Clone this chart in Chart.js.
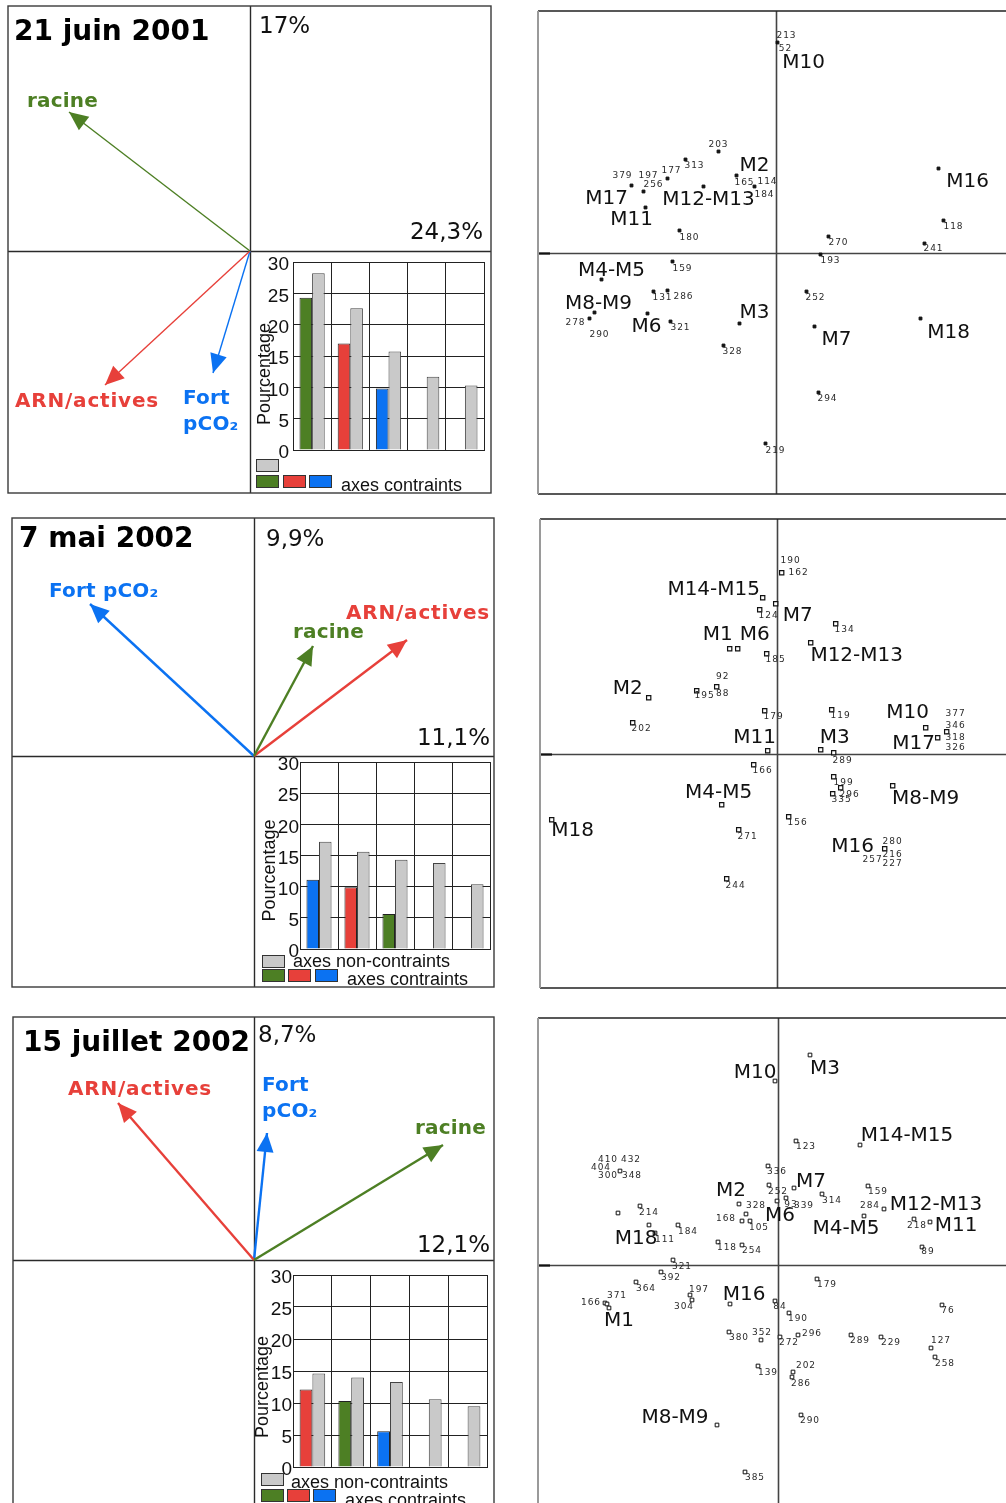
<!DOCTYPE html>
<html lang="fr">
<head>
<meta charset="utf-8">
<title>Analyses canoniques : racine, ARN/actives, Fort pCO₂</title>
<script src="https://cdn.jsdelivr.net/npm/chart.js@4.4.1/dist/chart.umd.min.js"></script>
<style>
  html, body { margin: 0; padding: 0; background: #fff; }
  body { position: relative; width: 1006px; height: 1503px; overflow: hidden; }
  canvas { position: absolute; }
</style>
</head>
<body>
<script>
// ---------------------------------------------------------------------------
// Data
// ---------------------------------------------------------------------------
const surveyDates = ['21 juin 2001', '7 mai 2002', '15 juillet 2002'];
const inertiaVertical = ['17%', '9,9%', '8,7%'];
const inertiaHorizontal = ['24,3%', '11,1%', '12,1%'];

const variableNames = ['racine', 'ARN/actives', 'Fort pCO₂'];

// Variable arrows (axis 1, axis 2), same order as variableNames
const arrows2001 = [[-1.81, 1.39], [-1.45, -1.34], [-0.37, -1.22]];
const arrowsMai2002 = [[0.59, 1.10], [1.53, 1.16], [-1.64, 1.52]];
const arrowsJuil2002 = [[1.89, 1.15], [-1.36, 1.57], [0.13, 1.27]];

// Arrow label text (line breaks as printed)
const arrowText2001 = ['racine', 'ARN/actives', 'Fort\npCO₂'];
const arrowTextMai2002 = ['racine', 'ARN/actives', 'Fort pCO₂'];
const arrowTextJuil2002 = ['racine', 'ARN/actives', 'Fort\npCO₂'];
// Arrow label anchors (left edge, first baseline) in axis units
const arrowLabelAt2001 = [[-2.23, 1.44], [-2.35, -1.56], [-0.67, -1.53]];
const arrowLabelAtMai2002 = [[0.39, 1.18], [0.92, 1.37], [-2.05, 1.59]];
const arrowLabelAtJuil2002 = [[1.61, 1.26], [-1.86, 1.65], [0.08, 1.69]];

// Inertia per axis (%)
const inertiaAxes = ['1', '2', '3', '4', '5'];
const constrained2001 = [24.3, 17.0, 9.8];
const constrainedVars2001 = ['racine', 'ARN/actives', 'Fort pCO₂'];
const unconstrained2001 = [28.2, 22.6, 15.7, 11.7, 10.3];
const constrainedMai2002 = [11.1, 9.9, 5.6];
const constrainedVarsMai2002 = ['Fort pCO₂', 'ARN/actives', 'racine'];
const unconstrainedMai2002 = [17.2, 15.6, 14.3, 13.8, 10.4];
const constrainedJuil2002 = [12.1, 10.3, 5.6];
const constrainedVarsJuil2002 = ['ARN/actives', 'racine', 'Fort pCO₂'];
const unconstrainedJuil2002 = [14.6, 14.0, 13.3, 10.6, 9.5];

// Individual scores (axis 1, axis 2)
const scores2001 = [
  [0.01, 2.10], [-0.58, 1.01], [-0.91, 0.93], [-1.09, 0.74], [-1.45, 0.67],
  [-1.33, 0.61], [-1.31, 0.45], [-0.73, 0.66], [-0.40, 0.77], [-0.22, 0.66],
  [-0.97, 0.22], [1.62, 0.84], [1.67, 0.32], [0.52, 0.16], [1.48, 0.09],
  [0.44, -0.02], [-1.04, -0.09], [-1.75, -0.27], [-1.23, -0.39], [-1.09, -0.38],
  [-1.82, -0.60], [-1.87, -0.66], [-1.29, -0.61], [-1.06, -0.69], [-0.37, -0.71],
  [-0.53, -0.93], [0.30, -0.39], [0.38, -0.74], [1.44, -0.66], [0.42, -1.40],
  [-0.11, -1.91]
];
const names2001 = [
  ['213', 0.10, 2.17], ['52', 0.09, 2.04], ['M10', 0.27, 1.90], ['203', -0.58, 1.08],
  ['313', -0.82, 0.87], ['177', -1.05, 0.82], ['379', -1.54, 0.77], ['197', -1.28, 0.77],
  ['256', -1.23, 0.68], ['M17', -1.70, 0.54], ['M11', -1.45, 0.33], ['M12-M13', -0.68, 0.53],
  ['M2', -0.22, 0.87], ['165', -0.32, 0.70], ['114', -0.09, 0.71], ['184', -0.12, 0.58],
  ['180', -0.87, 0.15], ['M16', 1.91, 0.71], ['118', 1.77, 0.26], ['270', 0.62, 0.10],
  ['241', 1.57, 0.035], ['193', 0.54, -0.08], ['159', -0.94, -0.16], ['M4-M5', -1.65, -0.18],
  ['131', -1.14, -0.45], ['286', -0.93, -0.44], ['M8-M9', -1.78, -0.51], ['278', -2.01, -0.70],
  ['290', -1.77, -0.82], ['M6', -1.30, -0.74], ['321', -0.96, -0.75], ['M3', -0.22, -0.60],
  ['328', -0.44, -0.99], ['252', 0.39, -0.45], ['M7', 0.60, -0.87], ['M18', 1.72, -0.80],
  ['294', 0.51, -1.46], ['219', -0.01, -1.98]
];

const scoresMai2002 = [
  [0.05, 1.81], [-0.14, 1.56], [-0.01, 1.50], [-0.17, 1.44], [0.59, 1.30],
  [-0.47, 1.05], [-0.39, 1.05], [0.34, 1.11], [-0.10, 1.00], [-0.60, 0.67],
  [-0.80, 0.63], [-1.28, 0.56], [-1.44, 0.31], [-0.12, 0.43], [0.55, 0.44],
  [1.49, 0.26], [1.70, 0.22], [1.61, 0.16], [-0.09, 0.03], [0.44, 0.04],
  [0.57, 0.01], [-0.23, -0.11], [-0.55, -0.51], [-2.25, -0.66], [-0.38, -0.76],
  [-0.50, -1.25], [0.57, -0.23], [0.64, -0.34], [0.56, -0.40], [1.16, -0.32],
  [0.12, -0.63], [1.08, -0.95]
];
const namesMai2002 = [
  ['190', 0.14, 1.93], ['162', 0.22, 1.81], ['M14-M15', -0.63, 1.64], ['M7', 0.21, 1.38],
  ['124', -0.08, 1.38], ['134', 0.68, 1.24], ['M1', -0.59, 1.19], ['M6', -0.22, 1.19],
  ['M12-M13', 0.80, 0.98], ['185', -0.01, 0.94], ['92', -0.54, 0.77], ['88', -0.54, 0.60],
  ['195', -0.72, 0.58], ['M2', -1.49, 0.65], ['202', -1.35, 0.25], ['179', -0.03, 0.37],
  ['119', 0.64, 0.38], ['M10', 1.31, 0.41], ['377', 1.79, 0.40], ['346', 1.79, 0.28],
  ['318', 1.79, 0.16], ['326', 1.79, 0.06], ['M17', 1.37, 0.10], ['M11', -0.22, 0.16],
  ['M3', 0.58, 0.16], ['289', 0.66, -0.07], ['166', -0.14, -0.17], ['M4-M5', -0.58, -0.39],
  ['M18', -2.04, -0.77], ['271', -0.29, -0.83], ['244', -0.41, -1.32], ['199', 0.67, -0.29],
  ['296', 0.73, -0.41], ['335', 0.65, -0.46], ['M8-M9', 1.49, -0.45], ['156', 0.21, -0.69],
  ['M16', 0.76, -0.93], ['280', 1.16, -0.88], ['216', 1.16, -1.01], ['257', 0.96, -1.06],
  ['227', 1.16, -1.10]
];

const scoresJuil2002 = [
  [0.32, 2.10], [-0.03, 1.84], [0.18, 1.24], [0.82, 1.20], [-1.58, 0.94],
  [-0.10, 0.99], [-0.09, 0.80], [0.16, 0.77], [0.44, 0.71], [0.08, 0.67],
  [-0.01, 0.64], [-0.39, 0.61], [-0.32, 0.51], [-0.36, 0.44], [-0.28, 0.44],
  [0.90, 0.79], [1.06, 0.56], [0.86, 0.49], [1.36, 0.46], [1.52, 0.43],
  [1.44, 0.18], [-1.60, 0.52], [-1.38, 0.59], [-1.29, 0.40], [-1.23, 0.32],
  [-1.00, 0.40], [-0.60, 0.23], [-0.36, 0.20], [-1.05, 0.05], [-1.17, -0.07],
  [-1.42, -0.17], [-0.88, -0.30], [-0.86, -0.35], [-1.73, -0.38], [-1.71, -0.39],
  [-1.69, -0.43], [-0.48, -0.39], [-0.03, -0.36], [0.11, -0.48], [0.39, -0.14],
  [1.64, -0.40], [-0.49, -0.67], [-0.17, -0.75], [0.02, -0.72], [0.20, -0.70],
  [0.73, -0.70], [1.03, -0.72], [1.53, -0.83], [1.57, -0.92], [-0.20, -1.01],
  [0.15, -1.07], [0.14, -1.12], [-0.61, -1.60], [0.23, -1.50], [-0.33, -2.07]
];
const namesJuil2002 = [
  ['M3', 0.47, 1.96], ['M10', -0.23, 1.92], ['123', 0.28, 1.18], ['M14-M15', 1.29, 1.29],
  ['410', -1.70, 1.05], ['432', -1.47, 1.05], ['404', -1.77, 0.97], ['300', -1.70, 0.89],
  ['348', -1.46, 0.89], ['336', -0.01, 0.93], ['252', 0.00, 0.73], ['M7', 0.33, 0.83],
  ['314', 0.54, 0.64], ['93', 0.13, 0.60], ['339', 0.26, 0.59], ['M6', 0.02, 0.49],
  ['M2', -0.47, 0.74], ['328', -0.22, 0.59], ['168', -0.52, 0.46], ['105', -0.19, 0.37],
  ['159', 1.00, 0.73], ['284', 0.92, 0.59], ['M12-M13', 1.58, 0.60], ['M4-M5', 0.68, 0.36],
  ['218', 1.39, 0.39], ['M11', 1.78, 0.39], ['89', 1.50, 0.13], ['214', -1.29, 0.52],
  ['M18', -1.42, 0.26], ['111', -1.13, 0.25], ['184', -0.90, 0.33], ['118', -0.51, 0.17],
  ['254', -0.26, 0.14], ['321', -0.96, -0.02], ['392', -1.07, -0.13], ['364', -1.32, -0.24],
  ['197', -0.79, -0.25], ['304', -0.94, -0.42], ['166', -1.87, -0.38], ['371', -1.61, -0.31],
  ['M1', -1.59, -0.56], ['M16', -0.34, -0.30], ['84', 0.02, -0.42], ['190', 0.20, -0.54],
  ['179', 0.49, -0.20], ['76', 1.70, -0.46], ['380', -0.39, -0.73], ['352', -0.16, -0.68],
  ['272', 0.11, -0.78], ['296', 0.34, -0.69], ['289', 0.82, -0.76], ['229', 1.13, -0.78],
  ['127', 1.63, -0.76], ['258', 1.67, -0.99], ['139', -0.10, -1.08], ['202', 0.28, -1.01],
  ['286', 0.23, -1.19], ['M8-M9', -1.03, -1.53], ['290', 0.32, -1.56], ['385', -0.23, -2.13]
];

// ---------------------------------------------------------------------------
// Styling
// ---------------------------------------------------------------------------
const varColor = { 'racine': '#4d7f24', 'ARN/actives': '#e7403a', 'Fort pCO₂': '#0b72f2' };
const varSpacing = { 'racine': '0.2px', 'ARN/actives': '0.8px', 'Fort pCO₂': '0.2px' };
const SANS = '"DejaVu Sans", Verdana, sans-serif';
const ARIAL = '"Liberation Sans", Arial, sans-serif';
const UNIT = 100; // pixels per axis unit

function placeCanvas(box) {
  const c = document.createElement('canvas');
  c.width = box[2] - box[0] + 4;
  c.height = box[3] - box[1] + 4;
  c.style.left = (box[0] - 2) + 'px';
  c.style.top = (box[1] - 2) + 'px';
  document.body.appendChild(c);
  return c;
}

function limits(box, origin) {
  return {
    x: { min: (box[0] - origin[0]) / UNIT, max: (box[2] - origin[0]) / UNIT },
    y: { min: (origin[1] - box[3]) / UNIT, max: (origin[1] - box[1]) / UNIT }
  };
}

function baseOptions(lim) {
  return {
    responsive: false, animation: false, events: [], devicePixelRatio: 1,
    layout: { padding: 2, autoPadding: false },
    plugins: { legend: { display: false }, tooltip: { enabled: false } },
    scales: {
      x: { type: 'linear', display: false, min: lim.x.min, max: lim.x.max },
      y: { type: 'linear', display: false, min: lim.y.min, max: lim.y.max }
    }
  };
}

// ---------------------------------------------------------------------------
// Biplot of the explanatory variables
// ---------------------------------------------------------------------------
function biplot(idx, box, origin, arrows, texts, anchors, lineWidth, lay) {
  const canvas = placeCanvas(box);
  const datasets = arrows.map((v, i) => ({
    data: [{ x: 0, y: 0 }, { x: v[0], y: v[1] }],
    showLine: true, borderColor: varColor[variableNames[i]], borderWidth: lineWidth,
    pointRadius: 0, fill: false
  }));
  const decor = {
    id: 'biplotDecor',
    beforeDatasetsDraw(chart) {
      const { ctx, chartArea: a, scales: { x, y } } = chart;
      const px = Math.round(x.getPixelForValue(0)) + 0.5;
      const py = Math.round(y.getPixelForValue(0)) + 0.5;
      ctx.save();
      ctx.strokeStyle = '#2a2a2a';
      ctx.lineWidth = 1.4;
      ctx.beginPath();
      ctx.moveTo(px, a.top); ctx.lineTo(px, a.bottom);
      ctx.moveTo(a.left, py); ctx.lineTo(a.right, py);
      ctx.stroke();
      ctx.strokeStyle = '#3a3a3a';
      ctx.strokeRect(a.left, a.top, a.width, a.height);
      ctx.restore();
    },
    afterDatasetsDraw(chart) {
      const { ctx, chartArea: a, scales: { x, y } } = chart;
      const ox = x.getPixelForValue(0), oy = y.getPixelForValue(0);
      ctx.save();
      // arrow heads
      chart.data.datasets.forEach((ds, i) => {
        const pts = chart.getDatasetMeta(i).data;
        const p0 = pts[0], p1 = pts[1];
        const ang = Math.atan2(p1.y - p0.y, p1.x - p0.x);
        const L = 19, W = 8.5;
        const bx = p1.x - L * Math.cos(ang), by = p1.y - L * Math.sin(ang);
        ctx.fillStyle = ds.borderColor;
        ctx.beginPath();
        ctx.moveTo(p1.x, p1.y);
        ctx.lineTo(bx - W * Math.sin(ang), by + W * Math.cos(ang));
        ctx.lineTo(bx + W * Math.sin(ang), by - W * Math.cos(ang));
        ctx.closePath();
        ctx.fill();
      });
      // variable names
      ctx.font = 'bold 20px ' + SANS;
      ctx.textAlign = 'left';
      ctx.textBaseline = 'alphabetic';
      texts.forEach((t, i) => {
        const v = variableNames[i];
        ctx.fillStyle = varColor[v];
        ctx.letterSpacing = varSpacing[v];
        const lx = x.getPixelForValue(anchors[i][0]);
        const ly = y.getPixelForValue(anchors[i][1]);
        t.split('\n').forEach((line, k) => ctx.fillText(line, lx, ly + k * 26));
      });
      ctx.letterSpacing = '0px';
      // date
      ctx.fillStyle = '#000';
      ctx.font = 'bold 28px ' + SANS;
      ctx.fillText(surveyDates[idx], a.left + lay.title[0], a.top + lay.title[1]);
      // inertia of the two axes
      ctx.font = '23px ' + SANS;
      ctx.fillStyle = '#111';
      ctx.fillText(inertiaVertical[idx], ox + lay.vert[0], a.top + lay.vert[1]);
      ctx.textAlign = 'right';
      ctx.fillText(inertiaHorizontal[idx], a.right - lay.horiz[0], oy - lay.horiz[1]);
      ctx.restore();
    }
  };
  new Chart(canvas, {
    type: 'scatter',
    data: { datasets },
    options: baseOptions(limits(box, origin)),
    plugins: [decor]
  });
}

// ---------------------------------------------------------------------------
// Inertia bar chart (constrained vs non-constrained axes)
// ---------------------------------------------------------------------------
function inertiaBars(geom, constrained, constrainedVars, unconstrained, leg) {
  const { L, T, R, B, bottom, tickPad } = geom;
  const canvas = document.createElement('canvas');
  const left = L - 40, top = T - 12;
  canvas.width = R + 4 - left;
  canvas.height = bottom - top;
  canvas.style.left = left + 'px';
  canvas.style.top = top + 'px';
  document.body.appendChild(canvas);

  const decor = {
    id: 'barDecor',
    afterDraw(chart) {
      const { ctx, chartArea: a } = chart;
      ctx.save();
      // legend
      const box = (x0, y0, fill) => {
        ctx.fillStyle = fill;
        ctx.fillRect(x0, y0, 22, 12);
        ctx.strokeStyle = '#333';
        ctx.lineWidth = 1;
        ctx.strokeRect(x0 + 0.5, y0 + 0.5, 22, 12);
      };
      box(a.left + leg.gray[0], a.bottom + leg.gray[1], '#c9c9c9');
      ['racine', 'ARN/actives', 'Fort pCO₂'].forEach((v, i) =>
        box(a.left + leg.colored[i], a.bottom + leg.coloredY, varColor[v]));
      ctx.fillStyle = '#111';
      ctx.font = '18px ' + ARIAL;
      ctx.textAlign = 'left';
      ctx.textBaseline = 'alphabetic';
      if (leg.grayText) ctx.fillText('axes non-contraints', a.left + leg.grayText[0], a.bottom + leg.grayText[1]);
      ctx.fillText('axes contraints', a.left + leg.text[0], a.bottom + leg.text[1]);
      // axis title
      ctx.translate(a.left + leg.title[0], (a.top + a.bottom) / 2 + leg.title[1]);
      ctx.rotate(-Math.PI / 2);
      ctx.textAlign = 'center';
      ctx.textBaseline = 'middle';
      ctx.fillText('Pourcentage', 0, 0);
      ctx.restore();
    }
  };

  new Chart(canvas, {
    type: 'bar',
    data: {
      labels: inertiaAxes,
      datasets: [
        {
          data: constrained,
          backgroundColor: constrainedVars.map(v => varColor[v]),
          borderColor: '#222', borderWidth: 1,
          categoryPercentage: 0.66, barPercentage: 1
        },
        {
          data: unconstrained,
          backgroundColor: '#c9c9c9',
          borderColor: '#444', borderWidth: 1,
          categoryPercentage: 0.66, barPercentage: 1
        }
      ]
    },
    options: {
      responsive: false, animation: false, events: [], devicePixelRatio: 1,
      layout: { padding: { top: 12, left: 0, right: 4, bottom: bottom - B }, autoPadding: false },
      plugins: { legend: { display: false }, tooltip: { enabled: false } },
      scales: {
        x: {
          grid: { color: '#222', lineWidth: 1, drawTicks: false, offset: true },
          border: { color: '#222', width: 1 },
          ticks: { display: false }
        },
        y: {
          min: 0, max: 30,
          ticks: { stepSize: 5, padding: tickPad, labelOffset: 3, color: '#111', font: { family: ARIAL, size: 19 } },
          grid: { color: '#222', lineWidth: 1, drawTicks: false },
          border: { color: '#222', width: 1 },
          afterFit(s) { s.width = 40; s.paddingTop = 0; s.paddingBottom = 0; }
        }
      }
    },
    plugins: [decor]
  });
}

// ---------------------------------------------------------------------------
// Ordination of the individuals
// ---------------------------------------------------------------------------
function ordination(box, origin, scores, names, pointStyle) {
  const canvas = placeCanvas(box);
  const decor = {
    id: 'ordDecor',
    beforeDatasetsDraw(chart) {
      const { ctx, chartArea: a, scales: { x, y } } = chart;
      const px = Math.round(x.getPixelForValue(0)) + 0.5;
      const py = Math.round(y.getPixelForValue(0)) + 0.5;
      ctx.save();
      ctx.lineWidth = 1.6;
      ctx.strokeStyle = '#444';
      ctx.beginPath();
      ctx.moveTo(px, a.top); ctx.lineTo(px, a.bottom);
      ctx.moveTo(a.left, py); ctx.lineTo(a.right, py);
      ctx.stroke();
      ctx.strokeStyle = '#111';
      ctx.lineWidth = 2.2;
      ctx.beginPath();
      ctx.moveTo(a.left, py); ctx.lineTo(a.left + 12, py);
      ctx.stroke();
      // frame
      ctx.lineWidth = 1.5;
      ctx.strokeStyle = '#222';
      ctx.beginPath();
      ctx.moveTo(a.right, a.top); ctx.lineTo(a.left, a.top);
      ctx.moveTo(a.left, a.bottom); ctx.lineTo(a.right, a.bottom);
      ctx.stroke();
      ctx.strokeStyle = '#9a9a9a';
      ctx.lineWidth = 2;
      ctx.beginPath();
      ctx.moveTo(a.left, a.top); ctx.lineTo(a.left, a.bottom);
      ctx.stroke();
      ctx.restore();
    },
    afterDatasetsDraw(chart) {
      const { ctx, scales: { x, y } } = chart;
      ctx.save();
      ctx.textAlign = 'center';
      ctx.textBaseline = 'middle';
      names.forEach(([t, vx, vy]) => {
        const big = t.charAt(0) === 'M';
        ctx.font = big ? '20px ' + SANS : '9px ' + SANS;
        ctx.letterSpacing = big ? '0px' : '1px';
        ctx.fillStyle = big ? '#111' : '#2a2a2a';
        ctx.fillText(t, x.getPixelForValue(vx), y.getPixelForValue(vy));
      });
      ctx.restore();
    }
  };
  new Chart(canvas, {
    type: 'scatter',
    data: {
      datasets: [{
        data: scores.map(([sx, sy]) => ({ x: sx, y: sy })),
        pointStyle: 'rect',
        pointRadius: pointStyle.r,
        pointBorderWidth: pointStyle.bw,
        pointBorderColor: '#111',
        pointBackgroundColor: pointStyle.fill
      }]
    },
    options: baseOptions(limits(box, origin)),
    plugins: [decor]
  });
}

// ---------------------------------------------------------------------------
// Page layout: three surveys, one row each
// ---------------------------------------------------------------------------
biplot(0, [8, 6, 491, 493], [250, 251], arrows2001, arrowText2001, arrowLabelAt2001, 1.4,
  { title: [6, 34], vert: [9, 27], horiz: [8, 12] });
inertiaBars({ L: 293, T: 262, R: 484, B: 450, bottom: 493, tickPad: 4 },
  constrained2001, constrainedVars2001, unconstrained2001,
  { gray: [-37, 9], colored: [-37, -10, 16], coloredY: 25, grayText: null, text: [48, 41], title: [-28, 18] });
ordination([538, 11, 1010, 494], [776.5, 252.5], scores2001, names2001, { r: 2.0, bw: 1, fill: '#111' });

biplot(1, [12, 518, 494, 987], [254, 756], arrowsMai2002, arrowTextMai2002, arrowLabelAtMai2002, 2.4,
  { title: [7, 29], vert: [12, 28], horiz: [4, 11] });
inertiaBars({ L: 300, T: 762, R: 490, B: 949, bottom: 987, tickPad: 1 },
  constrainedMai2002, constrainedVarsMai2002, unconstrainedMai2002,
  { gray: [-38, 6], colored: [-38, -12, 15], coloredY: 20, grayText: [-7, 18], text: [47, 36], title: [-30, 15] });
ordination([540, 519, 1010, 988], [776.7, 753.7], scoresMai2002, namesMai2002, { r: 3.0, bw: 1.2, fill: '#fff' });

biplot(2, [13, 1017, 494, 1508], [254, 1260], arrowsJuil2002, arrowTextJuil2002, arrowLabelAtJuil2002, 2.4,
  { title: [10, 34], vert: [4, 25], horiz: [4, 8] });
inertiaBars({ L: 293, T: 1275, R: 487, B: 1467, bottom: 1503, tickPad: 1 },
  constrainedJuil2002, constrainedVarsJuil2002, unconstrainedJuil2002,
  { gray: [-32, 6], colored: [-32, -6, 20], coloredY: 22, grayText: [-2, 21], text: [52, 39], title: [-30, 16] });
ordination([538, 1018, 1010, 1508], [778, 1265], scoresJuil2002, namesJuil2002, { r: 2.6, bw: 1, fill: '#fff' });
</script>
</body>
</html>
